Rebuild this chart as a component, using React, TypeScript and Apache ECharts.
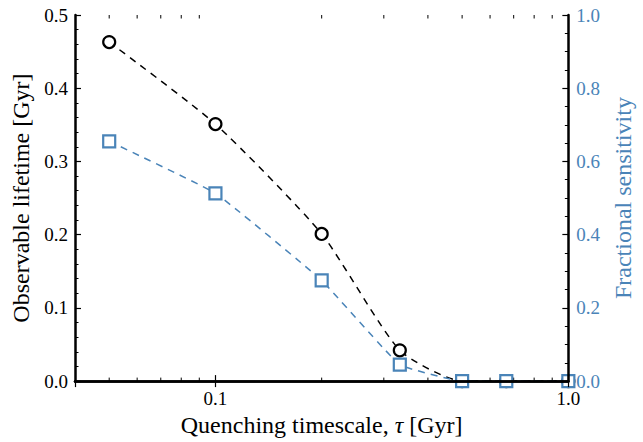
import React, { useEffect, useRef } from "react";
import * as echarts from "echarts";

const tau = [0.05, 0.1, 0.2, 0.333, 0.5, 0.667, 1.0];
const lifetime = [0.463, 0.351, 0.201, 0.042, 0, 0, 0];
const sensitivity = [0.655, 0.513, 0.275, 0.045, 0, 0, 0];
const minorX = [0.05, 0.06, 0.07, 0.08, 0.09, 0.2, 0.3, 0.4, 0.5, 0.6, 0.7, 0.8, 0.9];

const SERIF = "Liberation Serif";
const BLUE = "#4a84b8";

export default function App() {
  const ref = useRef<HTMLDivElement>(null);
  useEffect(() => {
    if (!ref.current) return;
    const chart = echarts.init(ref.current, undefined, { renderer: "svg" });
    const xCommon = {
      type: "log" as const,
      logBase: 10,
      min: 0.04,
      max: 1.0,
      z: 10,
      splitLine: { show: false },
      axisLine: { show: true, lineStyle: { color: "#000", width: 2.5 } },
      axisTick: { show: true, inside: true, length: 6, lineStyle: { color: "#000", width: 1.2 } },
    };
    chart.setOption({
      animation: false,
      backgroundColor: "#fff",
      textStyle: { fontFamily: SERIF },
      grid: { left: 75, right: 70, top: 15, bottom: 52, containLabel: false },
      graphic: [
        {
          type: "rect",
          left: 70,
          bottom: 44,
          z: 5,
          silent: true,
          shape: { width: 506, height: 7 },
          style: { fill: "#fff" },
        },
      ],
      xAxis: [
        {
          ...xCommon,
          position: "bottom",
          axisLabel: {
            show: true,
            color: "#000",
            fontSize: 19,
            fontFamily: SERIF,
            margin: 8,
            showMinLabel: false,
            formatter: (v: number) => (Math.abs(v - 0.1) < 1e-6 || Math.abs(v - 1) < 1e-6 ? v.toFixed(1) : ""),
          },
          name: "Quenching timescale, {i|τ} [Gyr]",
          nameLocation: "middle",
          nameGap: 30,
          nameTextStyle: {
            color: "#000",
            fontSize: 24,
            fontFamily: SERIF,
            rich: { i: { fontStyle: "italic", fontSize: 24, fontFamily: SERIF, color: "#000" } },
          },
        },
        {
          ...xCommon,
          position: "top",
          axisLabel: { show: false },
        },
      ],
      yAxis: [
        {
          type: "value",
          position: "left",
          min: 0,
          max: 0.5,
          interval: 0.1,
          z: 10,
          splitLine: { show: false },
          axisLine: { show: true, lineStyle: { color: "#000", width: 2.5 } },
          axisTick: { show: true, inside: true, length: 6, lineStyle: { color: "#000", width: 1.2 } },
          minorTick: { show: true, splitNumber: 5, length: 3.5, lineStyle: { color: "#000", width: 1 } },
          axisLabel: { color: "#000", fontSize: 19, fontFamily: SERIF, margin: 7, formatter: (v: number) => v.toFixed(1) },
          name: "Observable lifetime [Gyr]",
          nameLocation: "middle",
          nameRotate: 90,
          nameGap: 42,
          nameTextStyle: { color: "#000", fontSize: 24, fontFamily: SERIF },
        },
        {
          type: "value",
          position: "right",
          min: 0,
          max: 1.0,
          interval: 0.2,
          z: 10,
          splitLine: { show: false },
          axisLine: { show: true, lineStyle: { color: "#000", width: 2.5 } },
          axisTick: { show: true, inside: true, length: 6, lineStyle: { color: "#000", width: 1.2 } },
          minorTick: { show: true, splitNumber: 4, length: 3.5, lineStyle: { color: "#000", width: 1 } },
          axisLabel: { color: BLUE, fontSize: 19, fontFamily: SERIF, margin: 8, formatter: (v: number) => v.toFixed(1) },
          name: "Fractional sensitivity",
          nameLocation: "middle",
          nameRotate: 90,
          nameGap: 42,
          nameTextStyle: { color: BLUE, fontSize: 24, fontFamily: SERIF },
        },
      ],
      series: [
        {
          type: "custom",
          xAxisIndex: 0,
          yAxisIndex: 0,
          silent: true,
          clip: false,
          z: 1,
          data: minorX.map((v) => [v, 0]),
          encode: { x: 0, y: 1 },
          renderItem: (params: any, api: any) => {
            const x = api.value(0);
            const pb = api.coord([x, 0]);
            const pt = api.coord([x, 0.5]);
            const style = { stroke: "#000", lineWidth: 1 };
            return {
              type: "group",
              children: [
                { type: "line", shape: { x1: pb[0], y1: pb[1], x2: pb[0], y2: pb[1] - 3.5 }, style },
                { type: "line", shape: { x1: pt[0], y1: pt[1], x2: pt[0], y2: pt[1] + 3.5 }, style },
              ],
            };
          },
        },
        {
          name: "lifetime",
          type: "line",
          xAxisIndex: 0,
          yAxisIndex: 0,
          data: tau.map((t, i) => [t, lifetime[i]]),
          smooth: 0.2,
          symbol: "circle",
          symbolSize: 12,
          z: 3,
          lineStyle: { color: "#000", width: 1.5, type: [7, 6] },
          itemStyle: { color: "#fff", borderColor: "#000", borderWidth: 2.2 },
        },
        {
          name: "sensitivity",
          type: "line",
          xAxisIndex: 0,
          yAxisIndex: 1,
          data: tau.map((t, i) => [t, sensitivity[i]]),
          smooth: 0.1,
          symbol: "rect",
          symbolSize: 12,
          z: 4,
          lineStyle: { color: BLUE, width: 1.5, type: [7, 6] },
          itemStyle: { color: "#fff", borderColor: BLUE, borderWidth: 2.2 },
        },
      ],
    });
    return () => chart.dispose();
  }, []);
  return <div ref={ref} style={{ position: "fixed", left: 0, top: 0, width: 643, height: 442 }} />;
}
